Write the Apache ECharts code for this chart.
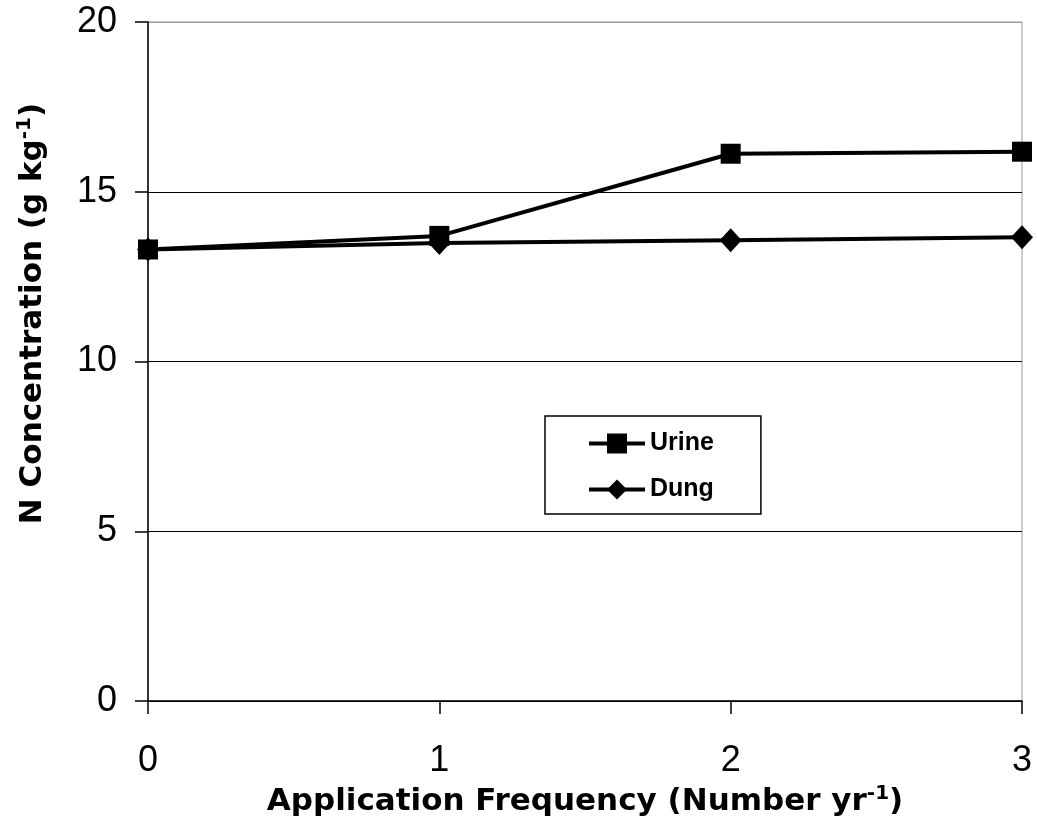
<!DOCTYPE html>
<html>
<head>
<meta charset="utf-8">
<script src="https://cdn.jsdelivr.net/npm/echarts@6/dist/echarts.min.js"></script>
<style>html,body{margin:0;padding:0;background:#fff}#c{width:1037px;height:834px}</style>
</head>
<body>
<div id="c"></div>
<script>
var frequency = [0, 1, 2, 3];
var urine = [13.3, 13.7, 16.12, 16.18];
var dung = [13.3, 13.49, 13.57, 13.66];
var seriesNames = ['Urine', 'Dung'];

function pairs(xs, ys) { return xs.map(function (x, i) { return [x, ys[i]]; }); }

var font = '"Liberation Sans", Arial, sans-serif';
var titleFont = '"DejaVu Sans", "Liberation Sans", sans-serif';
var titleRich = {
  b: { fontFamily: titleFont, fontSize: 31, fontWeight: 'bold', color: '#000' },
  s: { fontFamily: titleFont, fontSize: 20, fontWeight: 'bold', color: '#000', verticalAlign: 'top', padding: [0, 0, 16, 0] }
};
var chart = echarts.init(document.getElementById('c'));
chart.setOption({
  animation: false,
  backgroundColor: '#fff',
  grid: { left: 148, right: 15, top: 22, bottom: 133, containLabel: false, outerBoundsMode: 'none', show: true, borderColor: '#999', borderWidth: 1 },
  xAxis: {
    type: 'value', min: 0, max: 3, interval: 1,
    axisLine: { lineStyle: { color: '#000', width: 1.5 } },
    axisTick: { show: true, length: 13, inside: false, lineStyle: { color: '#000', width: 1.5 } },
    axisLabel: { fontFamily: font, fontSize: 36, color: '#000', margin: 42 },
    splitLine: { show: false },
    name: '{b|Application Frequency (Number yr}{s|-1}{b|)}',
    nameLocation: 'middle', nameGap: 77,
    nameTextStyle: { rich: titleRich }
  },
  yAxis: {
    type: 'value', min: 0, max: 20, interval: 5,
    axisLine: { show: true, lineStyle: { color: '#000', width: 1.5 } },
    axisTick: { show: true, length: 13, inside: false, lineStyle: { color: '#000', width: 1.5 } },
    axisLabel: { fontFamily: font, fontSize: 36, color: '#000', margin: 31 },
    splitLine: { show: true, lineStyle: { color: ['#000', '#000', '#000', '#000', '#999'], width: 1 } },
    name: '{b|N Concentration (g kg}{s|-1}{b|)}',
    nameLocation: 'middle', nameGap: 97,
    nameTextStyle: { rich: titleRich, padding: [0, 0, 0, 96] }
  },
  legend: {
    orient: 'vertical',
    left: 545, top: 416,
    padding: [15, 47, 12, 42],
    itemWidth: 56, itemHeight: 25, itemGap: 21,
    borderColor: '#000', borderWidth: 1.5,
    lineStyle: { width: 4, color: '#000' },
    textStyle: { fontFamily: font, fontSize: 25, fontWeight: 'bold', color: '#000' },
    data: seriesNames
  },
  series: [
    {
      name: seriesNames[0], type: 'line', data: pairs(frequency, urine),
      symbol: 'rect', symbolSize: 20,
      lineStyle: { color: '#000', width: 4 },
      itemStyle: { color: '#000' }
    },
    {
      name: seriesNames[1], type: 'line', data: pairs(frequency, dung),
      symbol: 'diamond', symbolSize: [22, 24],
      lineStyle: { color: '#000', width: 4 },
      itemStyle: { color: '#000' }
    }
  ]
});
</script>
</body>
</html>
